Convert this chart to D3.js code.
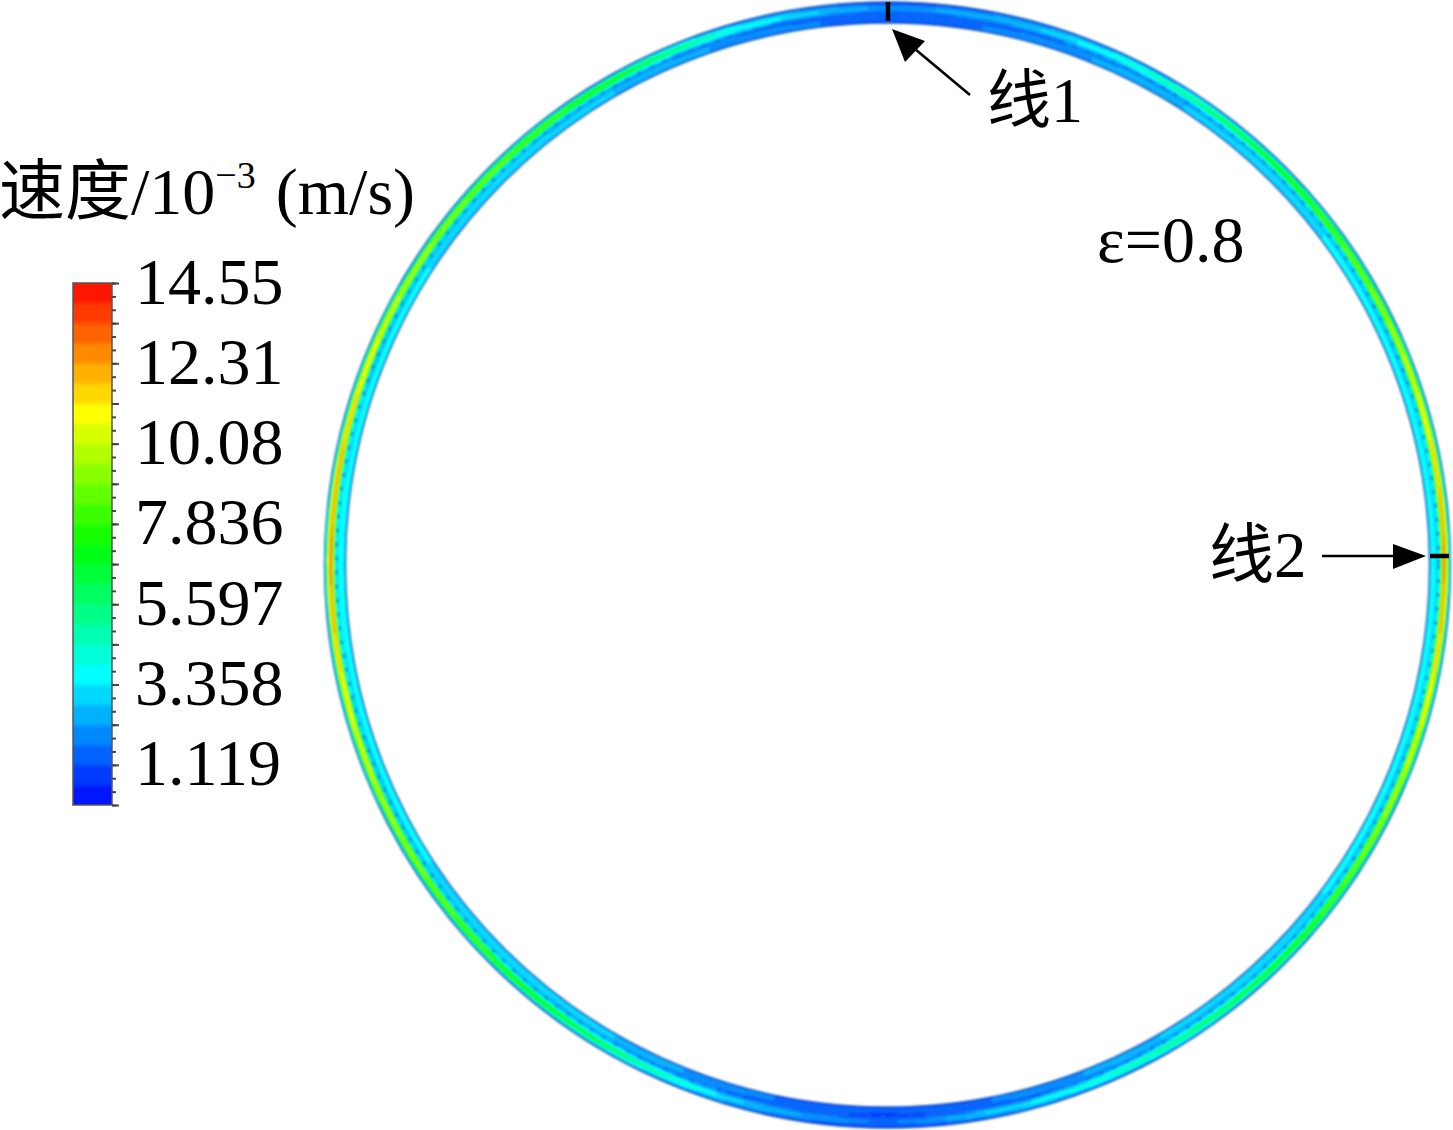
<!DOCTYPE html>
<html><head><meta charset="utf-8">
<script src="https://cdn.jsdelivr.net/npm/d3@7/dist/d3.min.js"></script>
<style>html,body{margin:0;padding:0;background:#fff}svg{display:block}
text{font-family:"Liberation Serif","Noto Sans CJK SC",serif;fill:#000}</style></head><body>
<svg id="c" width="1453" height="1130"></svg>
<script>
// Colour bar
const legendLabels = ["14.55","12.31","10.08","7.836","5.597","3.358","1.119"];
const legendValues = [14.547,12.308,10.07,7.836,5.597,3.358,1.119];
const speedMax = 14.55, bandCount = 26;
const rainbow = ["#0000ff","#00ffff","#00ff00","#ffff00","#ff0000"];
const angles = [0,15,30,45,60,75,90,105,120,135,150,165,180,195,210,225,240,255,270,285,300,315,330,345];
const edgeSpeed     = [0.7,0.7,0.7,0.7,0.7,0.8,0.8,0.8,0.7,0.7,0.7,0.7,0.6,0.7,0.7,0.7,0.7,0.8,0.8,0.8,0.7,0.7,0.7,0.7];
const innerSpeed    = [1.4,1.8,2.7,3.2,3.5,3.6,3.6,3.6,3.5,3.2,2.8,1.9,1.1,1.8,2.8,3.2,3.4,3.6,3.7,3.6,3.4,3.2,2.8,2.0];
const dipSpeed      = [1.1,1.4,1.9,2.2,2.4,2.5,2.5,2.5,2.4,2.2,2.0,1.4,0.9,1.4,2.0,2.3,2.4,2.5,2.6,2.5,2.4,2.3,2.0,1.5];
const peakSpeed     = [2.0,2.7,4.8,7.2,9.0,11.0,12.6,10.8,9.2,7.0,5.2,3.4,1.5,2.8,6.0,7.8,9.4,10.8,12.6,11.6,10.0,8.6,7.4,3.8];
const shoulderSpeed = [1.5,2.0,3.2,4.8,6.0,7.2,8.2,7.0,6.0,4.6,3.4,2.3,1.2,2.0,3.8,5.0,6.2,7.2,8.2,7.6,6.6,5.6,4.6,2.6];
const radialStops   = [0,0.08,0.28,0.44,0.68,0.76,0.9,1];   // inner wall to outer wall
const radialSeries  = [edgeSpeed,innerSpeed,innerSpeed,dipSpeed,peakSpeed,peakSpeed,shoulderSpeed,edgeSpeed];
const arrowLabels = ["线1","线2"];
const noteLabel = "ε=0.8";

const svg = d3.select("#c");
const defs = svg.append("defs");
defs.append("filter").attr("id","soft").attr("x","-2%").attr("y","-2%").attr("width","104%").attr("height","104%")
  .append("feGaussianBlur").attr("stdDeviation",0.9);
defs.append("filter").attr("id","softBar").attr("x","-10%").attr("y","-2%").attr("width","120%").attr("height","104%")
  .append("feGaussianBlur").attr("stdDeviation",2.2);
const colourOf = d3.scaleLinear().domain(d3.range(5).map(i=>i*speedMax/4)).range(rainbow).interpolate(d3.interpolateRgb);
const bandColours = d3.range(bandCount).map(i=>colourOf((i+0.5)*speedMax/bandCount));
const quant = d3.scaleQuantize().domain([0,speedMax]).range(bandColours);

// ---------- ring ----------
const cx = 887.5, cy = 565, rInner = 542, rOuter = 563;
const ringG = svg.append("g").attr("transform",`translate(${cx},${cy})`).attr("filter","url(#soft)");
const angleIdx = d3.scaleLinear().domain([0,360]).range([0,angles.length]);
const radial = d3.scaleLinear().domain([0,1]).range([rInner,rOuter]);
function seriesAt(s,deg){const p=angleIdx(deg%360),i=Math.floor(p)%s.length,f=p-Math.floor(p);
  return s[i]*(1-f)+s[(i+1)%s.length]*f;}
function field(deg,t){const k=Math.min(d3.bisectRight(radialStops,t)-1,radialStops.length-2);
  const f=(t-radialStops[k])/(radialStops[k+1]-radialStops[k]);
  return seriesAt(radialSeries[k],deg)*(1-f)+seriesAt(radialSeries[k+1],deg)*f;}
const arc = d3.arc();
const cells = [];
const nR = 14, stepA = 1;
for(let a=0;a<360;a+=stepA)for(let j=0;j<nR;j++)cells.push({a,t0:j/nR,t1:(j+1)/nR});
ringG.selectAll("path.cell").data(cells).join("path").attr("class","cell")
  .attr("d",d=>arc({innerRadius:radial(d.t0),outerRadius:radial(d.t1),
     startAngle:d.a*Math.PI/180,endAngle:(d.a+stepA)*Math.PI/180}))
  .attr("fill",d=>quant(field(d.a+stepA/2,(d.t0+d.t1)/2)))
  .attr("stroke",d=>quant(field(d.a+stepA/2,(d.t0+d.t1)/2))).attr("stroke-width",0.6);
// mesh dots in the dip of the flow, dark wall edges
ringG.append("circle").attr("r",radial(0.44)).attr("fill","none")
  .attr("stroke","#1060d0").attr("stroke-opacity",0.7).attr("stroke-width",2.4).attr("stroke-dasharray","4 10");
[rInner,rOuter].forEach(r=>ringG.append("circle").attr("r",r).attr("fill","none")
  .attr("stroke","#1a5aa0").attr("stroke-opacity",0.8).attr("stroke-width",1.4));

// sampling lines
const marks = svg.append("g").attr("stroke","#000").attr("stroke-width",4.5);
marks.append("line").attr("x1",888).attr("x2",888).attr("y1",2).attr("y2",21);
marks.append("line").attr("x1",1430).attr("x2",1449).attr("y1",556).attr("y2",556);

// arrows
const arrows = svg.append("g");
arrows.append("line").attr("x1",970).attr("y1",95).attr("x2",915).attr("y2",49).attr("stroke","#000").attr("stroke-width",2.6);
arrows.append("path").attr("d","M892,29L925,41L905,62Z").attr("fill","#000");
arrows.append("line").attr("x1",1322).attr("y1",556).attr("x2",1400).attr("y2",556).attr("stroke","#000").attr("stroke-width",2.6);
arrows.append("path").attr("d","M1426,556L1393,544L1393,569Z").attr("fill","#000");

// ---------- legend ----------
const barX0 = 73, barX1 = 112, barTop = 283, barBottom = 805;
const y = d3.scaleLinear().domain([0,speedMax]).range([barBottom,barTop]);
const legend = svg.append("g");
const bandEdges = d3.range(bandCount);
legend.append("clipPath").attr("id","barClip").append("rect")
  .attr("x",barX0).attr("y",barTop).attr("width",barX1-barX0).attr("height",barBottom-barTop);
legend.append("g").attr("clip-path","url(#barClip)").append("g").attr("filter","url(#softBar)")
  .selectAll("rect").data(bandEdges).join("rect")
  .attr("x",barX0-8).attr("width",barX1-barX0+16)
  .attr("y",i=>y((i+1)*speedMax/bandCount)-(i===bandCount-1?8:0))
  .attr("height",i=>y(i*speedMax/bandCount)-y((i+1)*speedMax/bandCount)+0.5+(i===0||i===bandCount-1?8:0))
  .attr("fill",i=>bandColours[i]);
legend.append("rect").attr("x",barX0).attr("y",barTop).attr("width",barX1-barX0).attr("height",barBottom-barTop)
  .attr("fill","none").attr("stroke","#555").attr("stroke-width",2).attr("stroke-opacity",.75);
const minorVals = d3.range(40).map(i=>i*speedMax/39);
const majorVals = d3.range(14).map(i=>i*speedMax/13);
const minorAxis = d3.axisRight(y).tickValues(minorVals).tickSize(4).tickFormat("");
const majorAxis = d3.axisRight(y).tickValues(majorVals).tickSize(7).tickFormat("");
[minorAxis,majorAxis].forEach(ax=>{
  const g=legend.append("g").attr("transform",`translate(${barX1},0)`).call(ax);
  g.select(".domain").remove();
  g.selectAll("line").attr("stroke","#444").attr("stroke-width",2);
});
legend.selectAll("text.lab").data(legendLabels).join("text").attr("class","lab")
  .attr("x",135).attr("y",(d,i)=>y(legendValues[i])+20.5).attr("font-size",66).text(d=>d);

// ---------- texts ----------
const title = svg.append("text").attr("x",-1).attr("y",214).attr("font-size",66);
title.append("tspan").text("速度");
title.append("tspan").text("/10");
title.append("tspan").attr("font-size",38).attr("dy",-26).text("−3");
title.append("tspan").attr("dy",26).attr("dx",20).text("(m/s)");
svg.append("text").attr("x",987).attr("y",122).attr("font-size",64).text(arrowLabels[0]);
svg.append("text").attr("x",1209).attr("y",577).attr("font-size",65).text(arrowLabels[1]);
svg.append("text").attr("x",1097).attr("y",262).attr("font-size",66).text(noteLabel);
</script></body></html>
